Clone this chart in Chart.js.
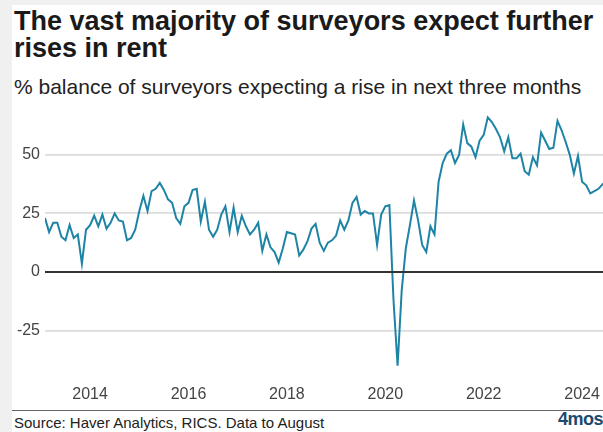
<!DOCTYPE html>
<html>
<head>
<meta charset="utf-8">
<script src="https://cdn.jsdelivr.net/npm/chart.js@4/dist/chart.umd.min.js"></script>
<style>
  html, body { margin: 0; padding: 0; }
  body { width: 603px; height: 432px; overflow: hidden; background: #f0f0f0; position: relative; font-family: "Liberation Sans", Arial, sans-serif; }
  #card { position: absolute; left: 12px; top: 5px; right: 0; bottom: 0; background: #ffffff; }
  #title { position: absolute; left: 14px; top: 8px; font-size: 27px; font-weight: bold; line-height: 27px; color: #1a1a1a; white-space: nowrap; }
  #subtitle { position: absolute; left: 14px; top: 75px; font-size: 21px; line-height: 24px; color: #222; white-space: nowrap; }
  #chartWrap { position: absolute; left: 0; top: 100px; width: 603px; height: 300px; }
  #rule { position: absolute; left: 12px; right: 0; top: 410px; height: 1px; background: #666; }
  #source { position: absolute; left: 14px; top: 414px; font-size: 15px; line-height: 18px; color: #222; white-space: nowrap; }
  #logo { position: absolute; right: 0; top: 410px; font-size: 18px; font-weight: bold; line-height: 18px; color: #1b4a6f; letter-spacing: -0.5px; }
</style>
</head>
<body>
<div id="card"></div>
<div id="title">The vast majority of surveyors expect further<br>rises in rent</div>
<div id="subtitle">% balance of surveyors expecting a rise in next three months</div>
<div id="chartWrap"><canvas id="c" width="603" height="300"></canvas></div>
<div id="rule"></div>
<div id="source">Source: Haver Analytics, RICS. Data to August</div>
<div id="logo">4mos</div>
<script>
// Monthly series, Feb 2013 .. Aug 2024
const startYear = 2013;
const startMonth = 2;
const balance = [
  23, 17, 21, 21, 15, 13.5, 20, 14.5, 16, 3.5, 18,            // 2013 Feb-Dec
  20, 24, 19.5, 24.5, 18.5, 21, 25, 22, 21.5, 13.5, 14.5, 18,  // 2014
  26, 32.5, 26, 34.5, 35.5, 38, 35, 31, 29.5, 23, 20.5, 28,    // 2015
  29.5, 35, 35.5, 21.5, 30, 18, 15, 18, 24.5, 28, 17, 27.5,    // 2016
  17, 24, 19.5, 16, 18, 21, 9, 16, 10.5, 8.5, 4, 10,           // 2017
  17, 16.5, 16, 7, 9.5, 13, 18.5, 20.5, 12.5, 9, 12.5, 13.5,   // 2018
  15.5, 22, 18, 22, 29.5, 32, 24.5, 26, 25, 25, 11.5, 24.5,    // 2019
  28, 28.5, -12, -40, -8, 10, 20, 30.5, 22, 11.5, 8.5, 19.5,   // 2020
  16, 38.5, 46.5, 50.5, 52, 46.5, 50, 63, 55, 53.5, 49, 56,    // 2021
  58.5, 66, 64, 61, 57.5, 51.5, 57.5, 48.5, 48.5, 50.5, 43, 41.5, // 2022
  49, 45.5, 59.5, 56, 52.5, 53, 64.5, 60.5, 55.5, 50, 42, 49.5,   // 2023
  38.5, 37, 33.5, 34.5, 35.5, 37.5, 39, 40                         // 2024 Jan-Aug
];
const yearTicks = [2014, 2016, 2018, 2020, 2022, 2024];
const valueTicks = [-25, 0, 25, 50];

const points = balance.map((v, i) => {
  const m = startMonth - 1 + i;
  return { x: startYear + Math.floor(m / 12) + (m % 12) / 12, y: v };
});

const zeroLine = {
  id: 'zeroLine',
  afterDatasetsDraw(chart) {
    const { ctx, chartArea, scales } = chart;
    const y = scales.y.getPixelForValue(0);
    ctx.save();
    ctx.strokeStyle = '#333333';
    ctx.lineWidth = 2;
    ctx.beginPath();
    ctx.moveTo(chartArea.left, y);
    ctx.lineTo(chartArea.right, y);
    ctx.stroke();
    ctx.restore();
  }
};

new Chart(document.getElementById('c'), {
  type: 'line',
  data: {
    datasets: [{
      data: points,
      borderColor: '#1e84a6',
      borderWidth: 2,
      pointRadius: 0,
      tension: 0,
      fill: false
    }]
  },
  options: {
    responsive: false,
    animation: false,
    layout: { padding: { top: 8, left: 0, right: 0, bottom: 0 } },
    plugins: { legend: { display: false }, tooltip: { enabled: false } },
    scales: {
      x: {
        type: 'linear',
        min: 2013 + 1 / 12,
        max: 2024.425,
        grid: { display: false, drawTicks: false },
        border: { display: false },
        afterBuildTicks(s) { s.ticks = yearTicks.map(v => ({ value: v })); },
        afterFit(s) { s.height = 22.7; s.paddingLeft = 0; s.paddingRight = 0; },
        ticks: {
          autoSkip: false, maxRotation: 0, padding: 8,
          color: '#444',
          font: { family: '"Liberation Sans", Arial, sans-serif', size: 16 },
          callback: v => String(v)
        }
      },
      y: {
        min: -45,
        max: 70,
        grid: {
          drawTicks: false,
          color: ctx => (ctx.tick && ctx.tick.value === 0) ? 'rgba(0,0,0,0)' : '#dcdcdc',
          lineWidth: 1.8
        },
        border: { display: false },
        afterBuildTicks(s) { s.ticks = valueTicks.map(v => ({ value: v })); },
        afterFit(s) { s.width = 45; s.paddingTop = 0; s.paddingBottom = 0; },
        ticks: {
          padding: 5,
          color: '#444',
          font: { family: '"Liberation Sans", Arial, sans-serif', size: 16 },
          callback: v => String(v)
        }
      }
    }
  },
  plugins: [zeroLine]
});
</script>
</body>
</html>
